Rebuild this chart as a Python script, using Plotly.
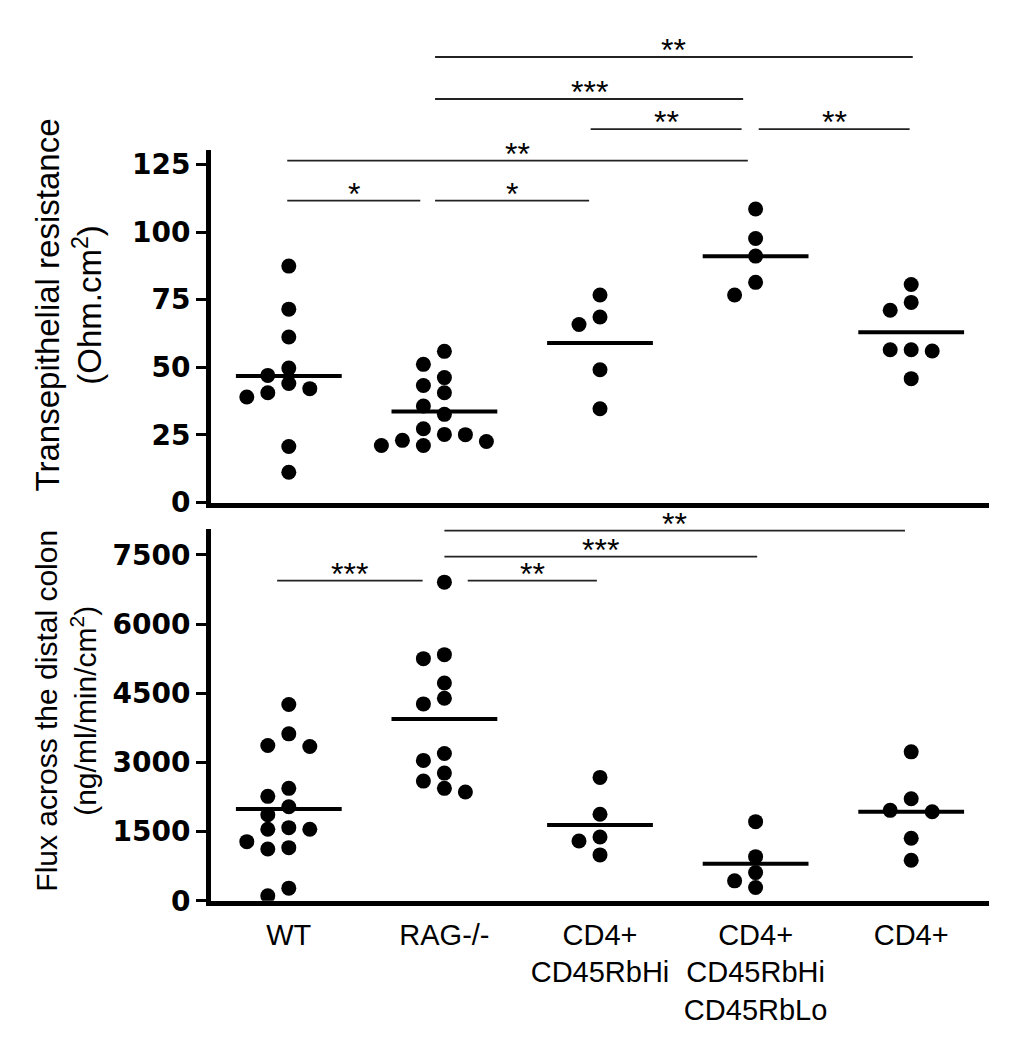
import numpy as np
import plotly.graph_objects as go

# ---------------- data ----------------
groups = ["WT", "RAG-/-", "CD4+<br>CD45RbHi", "CD4+<br>CD45RbHi<br>CD45RbLo", "CD4+"]

teer_wt = [87.4, 71.5, 61.2, 49.7, 47.0, 44.0, 42.1, 40.6, 39.0, 20.7, 11.2]
teer_rag = [55.9, 51.1, 46.2, 43.3, 40.6, 35.7, 32.6, 27.3, 25.2, 25.1, 23.0, 22.6, 21.1, 21.1]
teer_hi = [76.7, 68.6, 65.8, 49.1, 34.7]
teer_hilo = [108.5, 97.6, 91.1, 81.4, 76.7]
teer_cd4 = [80.6, 74.0, 71.1, 56.5, 56.0, 56.5, 45.8]

flux_wt = [4256, 3620, 3368, 3347, 2438, 2265, 2040, 1867, 1586, 1551, 1551, 1283, 1153, 1125, 275, 108]
flux_rag = [6909, 5337, 5250, 4723, 4392, 4269, 3195, 3044, 2769, 2596, 2438, 2358]
flux_hi = [2676, 1876, 1385, 1298, 995]
flux_hilo = [1716, 958, 612, 433, 288]
flux_cd4 = [3230, 2213, 1962, 1932, 1357, 880]

teer_ticks = [0, 25, 50, 75, 100, 125]
flux_ticks = [0, 1500, 3000, 4500, 6000, 7500]

# significance comparisons: (start group, end group, label)
teer_sig = [(1, 4, "**"), (1, 3, "***"), (2, 3, "**"), (3, 4, "**"), (0, 3, "**"), (0, 1, "*"), (1, 2, "*")]
flux_sig = [(1, 4, "**"), (1, 3, "***"), (0, 1, "***"), (1, 2, "**")]

# ---------------- layout geometry ----------------
OFF = 8                 # page body margin
W, H = 1027 - 2 * OFF, 1050 - 2 * OFF
SY, BY = 0.981, 1.9     # observed vertical mapping of the photographed page


def px(x):
    return (x - OFF) / W


def py(y):
    return 1 - ((y - BY) / SY - OFF) / H


XD = [px(211), px(989)]
Y1 = [py(502), py(150)]
Y2 = [py(900), py(528)]
TEER_MAX = 130.2
FLUX_MAX = 8070
CAT_PX = (XD[1] - XD[0]) * W / 5.0


def swarm(values, px_per_unit, diam=14.5, step=21.0):
    vals = np.asarray(values, dtype=float)
    order = np.argsort(-vals, kind="stable")
    placed = []
    offs = np.zeros(len(vals))
    for i in order:
        y = vals[i] * px_per_unit
        for k in [0, -1, 1, -2, 2, -3, 3]:
            xo = k * step
            if all((xo - a) ** 2 + (y - b) ** 2 >= diam ** 2 for a, b in placed):
                break
        placed.append((xo, y))
        offs[i] = xo / CAT_PX
    return offs


fig = go.Figure()

panels = [
    ([teer_wt, teer_rag, teer_hi, teer_hilo, teer_cd4], "x", "y", (Y1[1] - Y1[0]) * H * SY / TEER_MAX),
    ([flux_wt, flux_rag, flux_hi, flux_hilo, flux_cd4], "x2", "y2", (Y2[1] - Y2[0]) * H * SY / FLUX_MAX),
]
for sets, xa, ya, ppu in panels:
    for i, vals in enumerate(sets):
        off = swarm(vals, ppu)
        m = float(np.mean(vals))
        fig.add_trace(go.Scatter(x=[i - 0.34, i + 0.34], y=[m, m], mode="lines",
                                 line=dict(color="black", width=4), xaxis=xa, yaxis=ya,
                                 showlegend=False, hoverinfo="skip"))
        fig.add_trace(go.Scatter(x=i + off, y=vals, mode="markers",
                                 marker=dict(size=15, color="black"), xaxis=xa, yaxis=ya,
                                 showlegend=False))

shapes = []
annotations = []


def add_sig(sig, xref, levels, spans):
    for (a, b, lab), ypx, (x0, x1) in zip(sig, levels, spans):
        shapes.append(dict(type="line", xref=xref, yref="paper", x0=x0, x1=x1, y0=py(ypx), y1=py(ypx),
                           line=dict(color="#222", width=1.8)))
        annotations.append(dict(xref=xref, yref="paper", x=(x0 + x1) / 2, y=py(ypx - 7),
                                text=lab, showarrow=False, xanchor="center", yanchor="middle",
                                font=dict(family="Liberation Sans, Arial", size=32, color="black")))


add_sig(teer_sig, "x", [56.7, 98.7, 128.7, 128.7, 160.3, 200.3, 200.3],
        [(0.94, 4.01), (0.94, 2.92), (1.94, 2.91), (3.02, 3.99), (-0.01, 2.95), (-0.01, 0.845), (0.94, 1.93)])
add_sig(flux_sig, "x2", [530, 556, 580, 580],
        [(1.0, 3.96), (1.0, 3.01), (-0.075, 0.86), (1.15, 1.98)])

annotations.append(dict(xref="paper", yref="paper", x=px(69), y=py(305),
                        text="Transepithelial resistance<br>(Ohm.cm<sup>2</sup>)", textangle=-90,
                        showarrow=False, xanchor="center", yanchor="middle",
                        font=dict(family="Liberation Sans, Arial", size=33, color="black")))
annotations.append(dict(xref="paper", yref="paper", x=px(66), y=py(710),
                        text="Flux across the distal colon<br>(ng/ml/min/cm<sup>2</sup>)", textangle=-90,
                        showarrow=False, xanchor="center", yanchor="middle",
                        font=dict(family="Liberation Sans, Arial", size=30, color="black")))

tickfont_y = dict(family="DejaVu Sans", size=28, color="black", weight="bold")
common_x = dict(domain=XD, range=[-0.5, 4.5], showline=True, linewidth=5, linecolor="black",
                showgrid=False, zeroline=False)
common_y = dict(showline=True, linewidth=5, linecolor="black", showgrid=False, zeroline=False,
                ticks="outside", ticklen=10, tickwidth=3, tickcolor="black", tickfont=tickfont_y)

fig.update_layout(
    width=W, height=H, margin=dict(l=0, r=0, t=0, b=0),
    paper_bgcolor="white", plot_bgcolor="white",
    xaxis=dict(anchor="y", showticklabels=False, ticks="", **common_x),
    yaxis=dict(anchor="x", domain=Y1, range=[0, TEER_MAX], tickvals=teer_ticks, **common_y),
    xaxis2=dict(anchor="y2", tickvals=list(range(len(groups))), ticktext=groups,
                ticks="outside", ticklen=4, tickcolor="rgba(0,0,0,0)",
                tickfont=dict(family="Liberation Sans, Arial", size=29, color="black"), **common_x),
    yaxis2=dict(anchor="x2", domain=Y2, range=[0, FLUX_MAX], tickvals=flux_ticks, **common_y),
    shapes=shapes, annotations=annotations,
)

fig.write_html("out.html")
